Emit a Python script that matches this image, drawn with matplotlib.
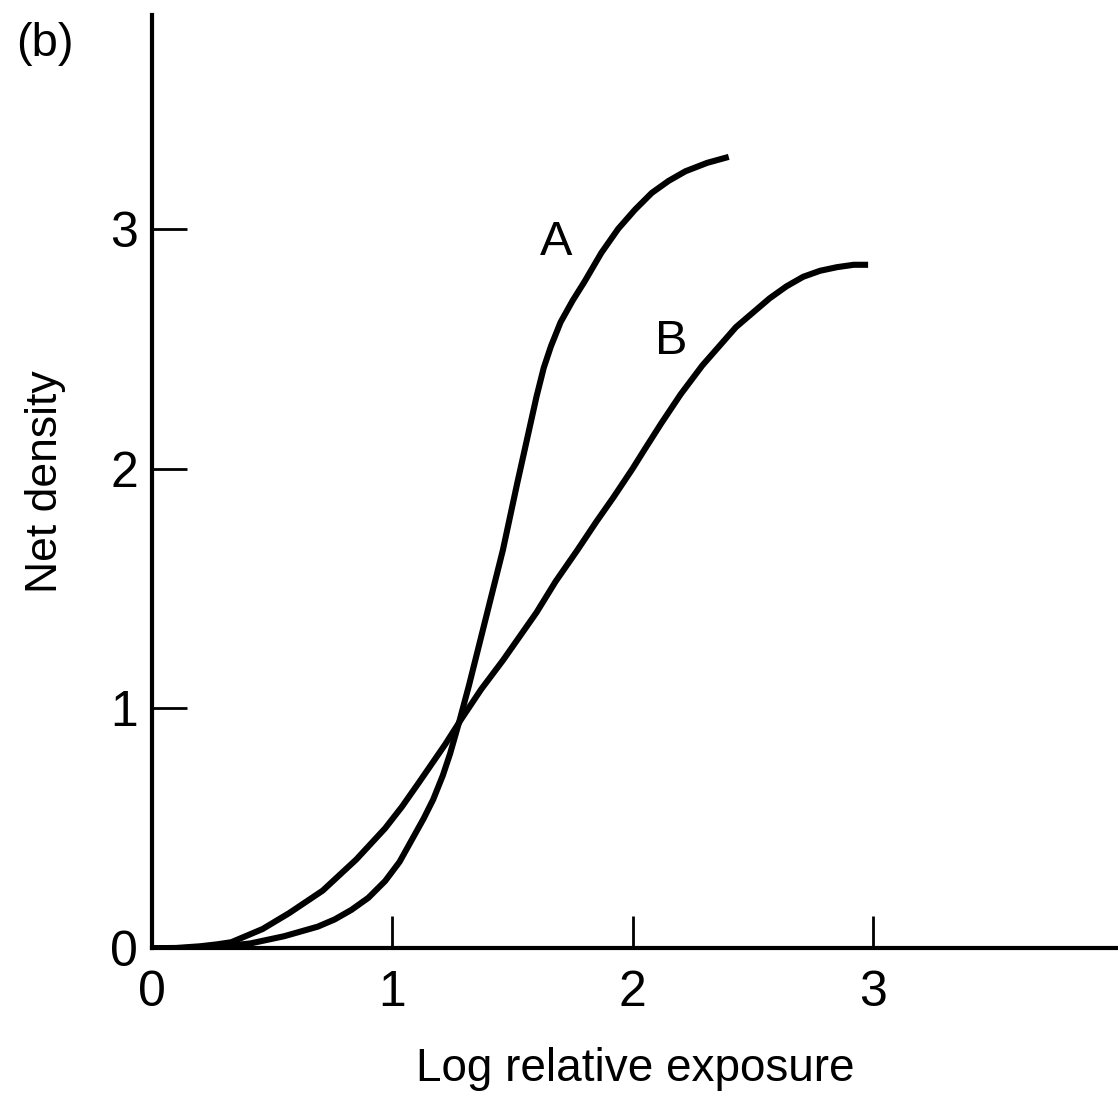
import matplotlib
matplotlib.use("Agg")
import matplotlib.pyplot as plt

plt.rcParams['font.family'] = ['Liberation Sans', 'DejaVu Sans']

# curve A (steeper)
a_x = [0, 0.1, 0.2, 0.3, 0.41, 0.55, 0.69, 0.76, 0.83, 0.90, 0.97, 1.03,
       1.08, 1.13, 1.17, 1.21, 1.24, 1.28, 1.32, 1.39, 1.46, 1.52, 1.56,
       1.60, 1.63, 1.66, 1.70, 1.75, 1.80, 1.87, 1.94, 2.01, 2.08, 2.15,
       2.22, 2.31, 2.40]
a_y = [0, 0.0, 0.002, 0.008, 0.02, 0.05, 0.09, 0.12, 0.16, 0.21, 0.28, 0.36,
       0.45, 0.54, 0.62, 0.72, 0.81, 0.95, 1.10, 1.38, 1.66, 1.94, 2.12,
       2.30, 2.42, 2.51, 2.61, 2.70, 2.78, 2.90, 3.00, 3.08, 3.15, 3.20,
       3.24, 3.275, 3.30]

# curve B (flatter)
b_x = [0, 0.1, 0.2, 0.27, 0.33, 0.46, 0.57, 0.71, 0.85, 0.97, 1.04, 1.11, 1.22,
       1.29, 1.37, 1.46, 1.53, 1.60, 1.68, 1.77, 1.85, 1.92, 2.00, 2.05,
       2.12, 2.20, 2.29, 2.36, 2.43, 2.50, 2.57, 2.64, 2.71, 2.78, 2.85,
       2.92, 2.98]
b_y = [0, 0.001, 0.008, 0.016, 0.025, 0.08, 0.146, 0.24, 0.37, 0.50, 0.59, 0.69, 0.85,
       0.96, 1.08, 1.20, 1.30, 1.40, 1.53, 1.66, 1.78, 1.88, 2.00, 2.08,
       2.19, 2.31, 2.43, 2.51, 2.59, 2.65, 2.71, 2.76, 2.80, 2.825, 2.84,
       2.85, 2.85]

ticks = [0, 1, 2, 3]

fig = plt.figure(figsize=(11.18, 11.0), dpi=100)
ax = fig.add_axes([0.136, 0.138, 0.864, 0.848])

ax.plot(a_x, a_y, color='black', lw=4.4, solid_capstyle='butt', solid_joinstyle='round')
ax.plot(b_x, b_y, color='black', lw=4.4, solid_capstyle='butt', solid_joinstyle='round')

ax.set_xlim(0, 4.02)
ax.set_ylim(0, 3.89)

ax.spines['top'].set_visible(False)
ax.spines['right'].set_visible(False)
ax.spines['left'].set_linewidth(3)
ax.spines['bottom'].set_linewidth(3)

ax.set_xticks(ticks)
ax.set_yticks(ticks)
ax.tick_params(axis='x', direction='in', length=23, width=2, pad=16, labelsize=36)
ax.tick_params(axis='y', direction='in', length=25, width=2, pad=10, labelsize=36)

ax.set_xlabel('Log relative exposure', fontsize=33, labelpad=22)
ax.set_ylabel('Net density', fontsize=32, labelpad=32)

ax.text(1.68, 2.945, 'A', fontsize=35, ha='center', va='center')
ax.text(2.16, 2.53, 'B', fontsize=35, ha='center', va='center')

fig.text(0.04, 0.96, '(b)', fontsize=34, ha='center', va='center')

fig.savefig('out.png', dpi=100)
